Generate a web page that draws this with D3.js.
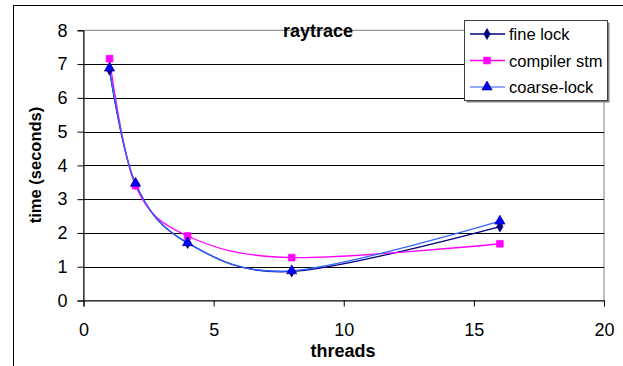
<!DOCTYPE html>
<html><head><meta charset="utf-8">
<script src="https://cdn.jsdelivr.net/npm/d3@7/dist/d3.min.js"></script>
<style>body{margin:0;background:#fff;}svg{display:block;font-family:"Liberation Sans",Arial,sans-serif;}</style>
</head><body><svg id="c" width="623" height="366"></svg>
<script>
const threads = [1, 2, 4, 8, 16];
const fineLock = [6.83, 3.45, 1.70, 0.86, 2.19];
const compilerStm = [7.16, 3.40, 1.91, 1.27, 1.68];
const coarseLock = [6.88, 3.47, 1.71, 0.88, 2.35];
const seriesNames = ["fine lock", "compiler stm", "coarse-lock"];
const xTicks = [0, 5, 10, 15, 20];
const yTicks = [0, 1, 2, 3, 4, 5, 6, 7, 8];
const chartTitle = "raytrace";
const xTitle = "threads";
const yTitle = "time (seconds)";

const svg = d3.select("#c");
const x = d3.scaleLinear().domain([0, 20]).range([83.5, 604]);
const y = d3.scaleLinear().domain([0, 8]).range([300.5, 30.3]);

// outer chart border
svg.append("rect").attr("x", 13.5).attr("y", 5.5).attr("width", 640).attr("height", 400)
  .attr("fill", "none").attr("stroke", "#000").attr("stroke-width", 1);

// plot area border (gray)
svg.append("rect").attr("x", x(0)).attr("y", y(8)).attr("width", x(20) - x(0)).attr("height", y(0) - y(8))
  .attr("fill", "none").attr("stroke", "#808080").attr("stroke-width", 1);

// gridlines
svg.append("g").selectAll("line").data(yTicks.filter(d => d > 0 && d < 8)).join("line")
  .attr("x1", x(0)).attr("x2", x(20)).attr("y1", d => Math.round(y(d)) + 0.5).attr("y2", d => Math.round(y(d)) + 0.5)
  .attr("stroke", "#000").attr("stroke-width", 1);

// axes
const yAxis = d3.axisLeft(y).tickValues(yTicks).tickSize(6).tickPadding(10).tickFormat(d3.format("d"));
const gy = svg.append("g").attr("transform", `translate(${x(0)},0)`).call(yAxis);
gy.select(".domain").attr("stroke", "#000");
gy.selectAll("text").attr("font-size", 18).attr("fill", "#000").attr("font-family", '"Liberation Sans",Arial,sans-serif');

const xAxis = d3.axisBottom(x).tickValues(xTicks).tickSize(6).tickPadding(17).tickFormat(d3.format("d"));
const gx = svg.append("g").attr("transform", `translate(0,${y(0)})`).call(xAxis);
gx.select(".domain").attr("stroke", "#000");
gx.selectAll("text").attr("font-size", 18).attr("fill", "#000").attr("font-family", '"Liberation Sans",Arial,sans-serif');

// series
const series = [
  {name: seriesNames[0], values: fineLock, line: "#000080", fill: "#000080", stroke: "#000080", marker: "diamond"},
  {name: seriesNames[1], values: compilerStm, line: "#ff00ff", fill: "#ff00ff", stroke: "#ff00ff", marker: "square"},
  {name: seriesNames[2], values: coarseLock, line: "#3366ff", fill: "#0000ff", stroke: "#000080", marker: "triangle"}
];
const line = d3.line().x(d => x(d[0])).y(d => y(d[1])).curve(d3.curveCatmullRom.alpha(0));
const sym = {diamond: d3.symbolDiamond, square: d3.symbolSquare, triangle: d3.symbolTriangle};
const symSize = {diamond: 34, square: 45, triangle: 45};

series.forEach(s => {
  const pts = threads.map((t, i) => [t, s.values[i]]);
  svg.append("path").attr("d", line(pts)).attr("fill", "none").attr("stroke", s.line).attr("stroke-width", 1.3);
});
series.forEach(s => {
  const pts = threads.map((t, i) => [t, s.values[i]]);
  svg.append("g").selectAll("path").data(pts).join("path")
    .attr("transform", d => `translate(${x(d[0])},${y(d[1])})`)
    .attr("d", d3.symbol().type(sym[s.marker]).size(symSize[s.marker]))
    .attr("fill", s.fill).attr("stroke", s.stroke).attr("stroke-width", 0.7);
});

// titles
svg.append("text").attr("x", 318).attr("y", 37).attr("text-anchor", "middle")
  .attr("font-size", 18).attr("font-weight", "bold").text(chartTitle);
svg.append("text").attr("x", 343).attr("y", 357).attr("text-anchor", "middle")
  .attr("font-size", 18).attr("font-weight", "bold").text(xTitle);
svg.append("text").attr("transform", "translate(40.5,165) rotate(-90)").attr("text-anchor", "middle")
  .attr("font-size", 16.5).attr("font-weight", "bold").text(yTitle);

// legend
const lg = svg.append("g");
lg.append("rect").attr("x", 466.5).attr("y", 22.5).attr("width", 143).attr("height", 80).attr("fill", "#808080");
lg.append("rect").attr("x", 464.5).attr("y", 20.5).attr("width", 143).attr("height", 80)
  .attr("fill", "#fff").attr("stroke", "#404040").attr("stroke-width", 1);
const legLine = ["#000080", "#ff00ff", "#6f8fff"];
series.forEach((s, i) => {
  const cy = 34 + i * 26.5;
  lg.append("line").attr("x1", 470).attr("x2", 505).attr("y1", cy).attr("y2", cy).attr("stroke", legLine[i]).attr("stroke-width", 1.3);
  lg.append("path").attr("transform", `translate(487,${cy})`)
    .attr("d", d3.symbol().type(sym[s.marker]).size(symSize[s.marker]))
    .attr("fill", s.fill).attr("stroke", s.stroke).attr("stroke-width", 0.7);
  lg.append("text").attr("x", 509).attr("y", cy + 6).attr("font-size", 16.5).text(s.name);
});
</script></body></html>
